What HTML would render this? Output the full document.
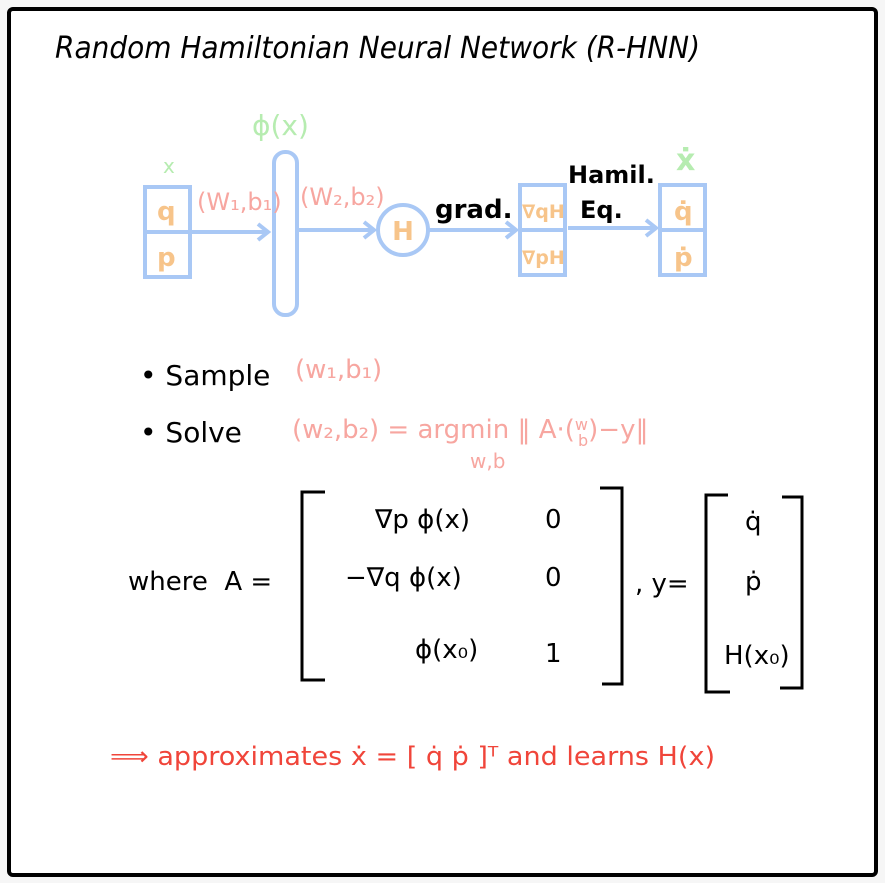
<!DOCTYPE html>
<html><head><meta charset="utf-8"><style>
html,body{margin:0;padding:0;background:#fff;}
svg{display:block;}
text{font-family:"DejaVu Sans","Liberation Sans",sans-serif;}
</style></head><body>
<svg width="885" height="883" viewBox="0 0 885 883">
<rect x="0" y="0" width="885" height="883" fill="#f6f6f6"/>
<rect x="9" y="9" width="867" height="866" rx="4" fill="#fff" stroke="#000" stroke-width="4"/>
<text x="55" y="58" font-size="30" fill="#000" font-style="italic" textLength="645" lengthAdjust="spacingAndGlyphs">Random Hamiltonian Neural Network (R-HNN)</text>

<g stroke="#a9c8f5" stroke-width="4" fill="none">
<rect x="145" y="187" width="45" height="90"/>
<line x1="145" y1="232" x2="190" y2="232"/>
<line x1="190" y1="232" x2="268" y2="232"/>
<polyline points="258,224 268,232 258,240"/>
<rect x="274" y="152" width="23" height="163" rx="11"/>
<line x1="298" y1="230" x2="374" y2="230"/>
<polyline points="364,222 374,230 364,238"/>
<circle cx="403" cy="230" r="25"/>
<line x1="428" y1="230" x2="516" y2="230"/>
<polyline points="506,222 516,230 506,238"/>
<rect x="520" y="185" width="45" height="90"/>
<line x1="520" y1="230" x2="565" y2="230"/>
<line x1="568" y1="228" x2="656" y2="228"/>
<polyline points="646,220 656,228 646,236"/>
<rect x="660" y="185" width="45" height="90"/>
<line x1="660" y1="230" x2="705" y2="230"/>
</g>
<g font-size="26" fill="#f7c48a" font-weight="bold">
<text x="157" y="220">q</text><text x="157" y="266">p</text>
<text x="403" y="240" text-anchor="middle">H</text>
<text x="522" y="218" font-size="19">∇qH</text><text x="522" y="264" font-size="19">∇pH</text>
<text x="674" y="220">q̇</text><text x="674" y="266">ṗ</text>
</g>
<g fill="#b6ecb0">
<text x="163" y="173" font-size="20">x</text>
<text x="252" y="135" font-size="28">ϕ(x)</text>
<text x="676" y="170" font-size="30" font-weight="bold">ẋ</text>
</g>
<g fill="#f7a6a0" font-size="24">
<text x="197" y="210">(W₁,b₁)</text>
<text x="300" y="205">(W₂,b₂)</text>
</g>
<text x="435" y="218" font-size="26" font-weight="bold" fill="#000">grad.</text>
<text x="568" y="183" font-size="24" font-weight="bold" fill="#000">Hamil.</text>
<text x="580" y="218" font-size="24" font-weight="bold" fill="#000">Eq.</text>

<text x="140" y="385" font-size="28" fill="#000">• Sample</text>
<text x="295" y="378" font-size="26" fill="#f7a6a0">(w₁,b₁)</text>
<text x="140" y="442" font-size="28" fill="#000">• Solve</text>
<text x="292" y="438" font-size="26" fill="#f7a6a0">(w₂,b₂) = argmin ‖ A·(<tspan font-size="16" dy="-8">w</tspan><tspan font-size="16" dx="-10" dy="16">b</tspan><tspan dy="-8">)−y‖</tspan></text>
<text x="470" y="468" font-size="20" fill="#f7a6a0">w,b</text>

<text x="128" y="590" font-size="26" fill="#000">where&#160;&#160;A =</text>
<g stroke="#000" stroke-width="3" fill="none">
<polyline points="325,492 302,492 302,680 325,680"/>
<polyline points="600,488 622,488 622,684 602,684"/>
<polyline points="728,495 706,495 706,692 730,692"/>
<polyline points="782,497 802,497 802,688 780,688"/>
</g>
<g font-size="26" fill="#000">
<text x="375" y="528">∇p ϕ(x)</text><text x="545" y="528">0</text>
<text x="345" y="586">−∇q ϕ(x)</text><text x="545" y="586">0</text>
<text x="415" y="658">ϕ(x₀)</text><text x="545" y="662">1</text>
<text x="635" y="592">, y=</text>
<text x="745" y="530">q̇</text>
<text x="745" y="590">ṗ</text>
<text x="724" y="664">H(x₀)</text>
</g>
<text x="110" y="765" font-size="26" fill="#f0453a" textLength="605" lengthAdjust="spacingAndGlyphs">⟹ approximates ẋ = [ q̇ ṗ ]ᵀ and learns H(x)</text>
</svg>
</body></html>
